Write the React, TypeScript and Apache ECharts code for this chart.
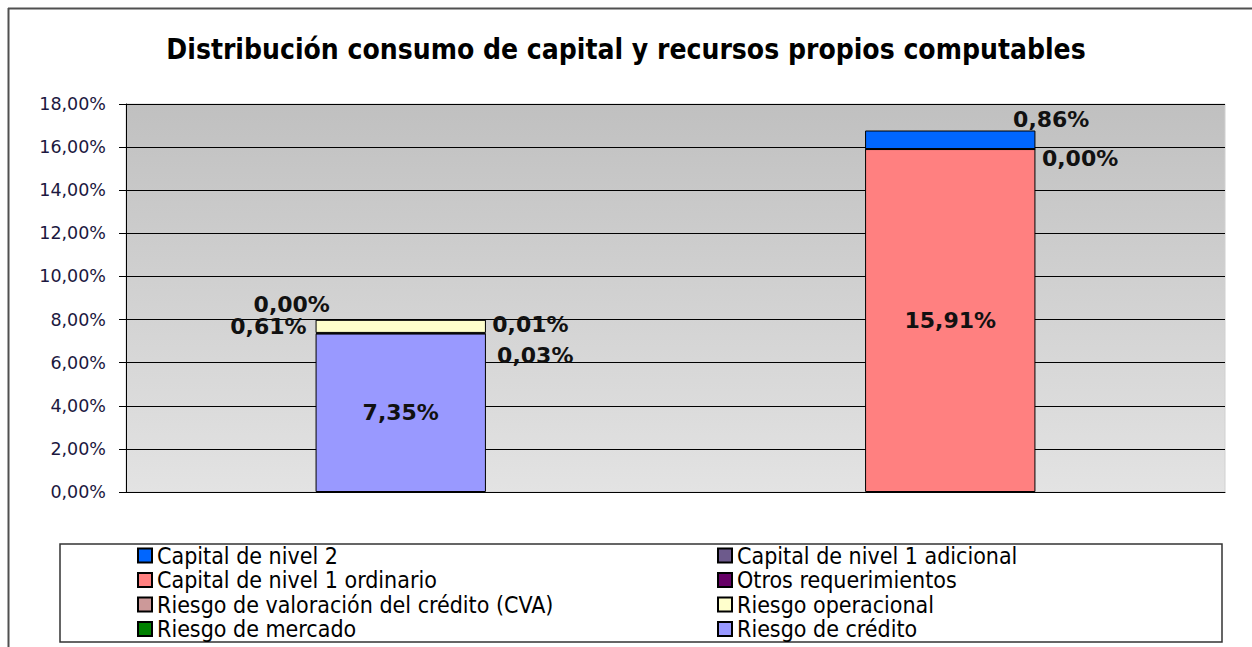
import React, { useEffect, useRef } from "react";
import * as echarts from "echarts";

const categories = ["Consumo de capital", "Recursos propios computables"];

const riesgoCredito = [7.35, null];
const riesgoMercado = [0.03, null];
const riesgoOperacional = [0.61, null];
const riesgoCVA = [0.01, null];
const otrosRequerimientos = [0.0, null];
const capitalN1Ordinario = [null, 15.91];
const capitalN1Adicional = [null, 0.0];
const capitalN2 = [null, 0.86];

const yTicks = [0, 2, 4, 6, 8, 10, 12, 14, 16, 18];

const legendColLeft = [
  "Capital de nivel 2",
  "Capital de nivel 1 ordinario",
  "Riesgo de valoración del crédito (CVA)",
  "Riesgo de mercado",
];
const legendColRight = [
  "Capital de nivel 1 adicional",
  "Otros requerimientos",
  "Riesgo operacional",
  "Riesgo de crédito",
];

const seriesDefs = [
  { name: "Riesgo de crédito", data: riesgoCredito, color: "#9999ff" },
  { name: "Riesgo de mercado", data: riesgoMercado, color: "#008000" },
  { name: "Riesgo operacional", data: riesgoOperacional, color: "#ffffcc" },
  { name: "Riesgo de valoración del crédito (CVA)", data: riesgoCVA, color: "#cc9999" },
  { name: "Otros requerimientos", data: otrosRequerimientos, color: "#660066" },
  { name: "Capital de nivel 1 ordinario", data: capitalN1Ordinario, color: "#ff8080" },
  { name: "Capital de nivel 1 adicional", data: capitalN1Adicional, color: "#6d5a8c" },
  { name: "Capital de nivel 2", data: capitalN2, color: "#0066ff" },
];

const labelPlacement: Record<string, any> = {
  "Riesgo de crédito": { position: "inside" },
  "Riesgo de mercado": { position: "right", distance: 11, offset: [0, 22] },
  "Riesgo operacional": { position: "left", distance: 9 },
  "Riesgo de valoración del crédito (CVA)": { position: "right", distance: 6, offset: [0, 5] },
  "Otros requerimientos": { position: "top", distance: 4, offset: [-109, 0] },
  "Capital de nivel 1 ordinario": { position: "inside" },
  "Capital de nivel 1 adicional": { position: "right", distance: 6, offset: [0, 9] },
  "Capital de nivel 2": { position: "top", distance: -1, offset: [101, -1] },
};

const fmtPct = (v: number) => v.toFixed(2).replace(".", ",") + "%";

export default function App() {
  const ref = useRef<HTMLDivElement>(null);
  useEffect(() => {
    if (!ref.current) return;
    const chart = echarts.init(ref.current, null, { renderer: "svg" });
    const labelFont = {
      fontFamily: "'DejaVu Sans', Verdana, sans-serif",
      fontWeight: "bold",
      fontSize: 22,
      color: "#111",
    };
    const series = seriesDefs.map((s) => ({
      name: s.name,
      type: "bar",
      stack: "total",
      barWidth: "31%",
      itemStyle: { color: s.color, borderColor: "#000", borderWidth: 1 },
      data: s.data.map((v) =>
        v == null
          ? "-"
          : {
              value: v,
              label: {
                show: true,
                formatter: (p: any) => fmtPct(p.value),
                ...labelFont,
                ...labelPlacement[s.name],
              },
            }
      ),
    }));
    const legendText = {
      fontFamily: "'DejaVu Sans Condensed', 'DejaVu Sans', Tahoma, sans-serif",
      fontSize: 23,
      color: "#000",
    };
    const rowTops = [544, 568.5, 593, 617.5];
    const mkLegend = (name: string, left: number, top: number) => ({
      data: [name],
      orient: "horizontal",
      left,
      top,
      padding: 0,
      itemWidth: 14,
      itemHeight: 14,
      icon: "rect",
      textStyle: legendText,
      selectedMode: false,
    });
    const legends = [
      ...legendColLeft.map((n, i) => mkLegend(n, 137, rowTops[i])),
      ...legendColRight.map((n, i) => mkLegend(n, 717, rowTops[i])),
    ];
    chart.setOption({
      animation: false,
      backgroundColor: "#fff",
      title: {
        text: "Distribución consumo de capital y recursos propios computables",
        left: "center",
        top: 30,
        textStyle: {
          fontFamily: "'DejaVu Sans Condensed', 'DejaVu Sans', Tahoma, sans-serif",
          fontWeight: "bold",
          fontSize: 28,
          color: "#000",
        },
      },
      grid: {
        left: 126,
        right: 27,
        top: 104,
        bottom: 155,
        show: true,
        backgroundColor: new echarts.graphic.LinearGradient(0, 0, 0, 1, [
          { offset: 0, color: "#c0c0c0" },
          { offset: 1, color: "#e3e3e3" },
        ]),
        borderColor: "#d0d0d0",
        borderWidth: 1,
      },
      legend: legends,
      xAxis: {
        type: "category",
        data: categories,
        axisLine: { show: true, lineStyle: { color: "#000", width: 1 } },
        axisTick: { show: false },
        axisLabel: { show: false },
      },
      yAxis: {
        type: "value",
        min: yTicks[0],
        max: yTicks[yTicks.length - 1],
        interval: yTicks[1] - yTicks[0],
        axisLine: { show: true, lineStyle: { color: "#000", width: 1 } },
        axisTick: { show: true, length: 7, lineStyle: { color: "#000" } },
        axisLabel: {
          formatter: (v: number) => fmtPct(v),
          fontFamily: "'DejaVu Sans', Verdana, sans-serif",
          fontSize: 17.5,
          color: "#1c1840",
          margin: 20,
        },
        splitLine: { show: true, lineStyle: { color: "#000", width: 1 } },
      },
      graphic: [
        {
          type: "line",
          shape: { x1: 8, y1: 8.5, x2: 1252, y2: 8.5 },
          style: { stroke: "#505050", lineWidth: 2 },
          silent: true,
        },
        {
          type: "line",
          shape: { x1: 8.5, y1: 8, x2: 8.5, y2: 647 },
          style: { stroke: "#505050", lineWidth: 2 },
          silent: true,
        },
        {
          type: "rect",
          shape: { x: 60, y: 544, width: 1162, height: 98 },
          style: { fill: "none", stroke: "#333", lineWidth: 1.5 },
          silent: true,
          z: -1,
        },
      ],
      series,
    });
    return () => chart.dispose();
  }, []);
  return (
    <div
      ref={ref}
      style={{ position: "fixed", left: 0, top: 0, width: 1252, height: 647 }}
    />
  );
}
